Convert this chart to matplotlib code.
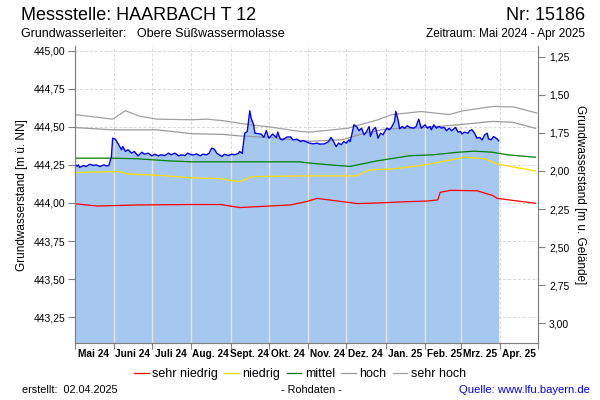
import numpy as np
import pandas as pd
import matplotlib
matplotlib.use('Agg')
import matplotlib.pyplot as plt
from matplotlib.ticker import FixedLocator, FuncFormatter

plt.rcParams['font.family'] = ['Liberation Sans', 'DejaVu Sans']

start = pd.Timestamp('2024-05-01')
end = pd.Timestamp('2025-05-01')
gelaende = 446.21  # Geländehöhe [m ü. NN] für die rechte Achse

# Messwerte (Tage seit 01.05.2024, Grundwasserstand m ü. NN)
mess_tage = [0, 2, 3, 4, 7, 9, 12, 15, 17, 20, 23, 25, 27, 29, 30, 32, 34, 36, 37, 38,
             40, 42, 45, 47, 50, 53, 55, 58, 61, 63, 66, 68, 71, 74, 76, 79, 82, 84, 87, 89,
             92, 94, 96, 99, 101, 104, 106, 108, 110, 112, 114, 116, 118, 121, 124, 126, 129, 130, 132, 134,
             136, 138, 139, 141, 142, 145, 147, 149, 151, 153, 156, 159, 160, 162, 164, 167, 170, 172, 175, 178,
             180, 183, 185, 188, 191, 193, 197, 200, 202, 204, 206, 208, 210, 212, 214, 216, 217, 218, 220, 222,
             224, 226, 228, 230, 232, 233, 235, 237, 239, 241, 243, 244, 246, 248, 250, 252, 253, 255, 256, 258,
             260, 262, 264, 267, 269, 271, 273, 276, 278, 280, 281, 283, 285, 287, 289, 291, 293, 295, 297, 300,
             302, 304, 305, 307, 310, 311, 313, 315, 317, 319, 321, 323, 325, 326, 328, 330, 332, 333, 334]
mess_werte = [444.26, 444.24, 444.25, 444.233, 444.246, 444.239, 444.254, 444.246, 444.25, 444.239,
              444.25, 444.243, 444.246, 444.305, 444.425, 444.419, 444.393, 444.364, 444.349, 444.37,
              444.338, 444.349, 444.327, 444.338, 444.309, 444.333, 444.32, 444.327, 444.309, 444.32,
              444.309, 444.316, 444.311, 444.327, 444.316, 444.327, 444.309, 444.316, 444.311, 444.327,
              444.316, 444.316, 444.322, 444.309, 444.32, 444.316, 444.327, 444.36, 444.353, 444.327,
              444.316, 444.305, 444.32, 444.311, 444.32, 444.316, 444.325, 444.338, 444.325, 444.458,
              444.469, 444.605, 444.557, 444.513, 444.458, 444.454, 444.452, 444.43, 444.474, 444.425,
              444.452, 444.43, 444.465, 444.419, 444.414, 444.432, 444.434, 444.414, 444.419, 444.403,
              444.41, 444.399, 444.393, 444.388, 444.393, 444.386, 444.388, 444.403, 444.43, 444.403,
              444.37, 444.393, 444.382, 444.403, 444.393, 444.414, 444.403, 444.436, 444.513, 444.502,
              444.474, 444.491, 444.447, 444.469, 444.502, 444.436, 444.48, 444.496, 444.425, 444.458,
              444.447, 444.465, 444.491, 444.48, 444.502, 444.535, 444.601, 444.535, 444.487, 444.502,
              444.491, 444.507, 444.496, 444.491, 444.502, 444.55, 444.491, 444.513, 444.491, 444.502,
              444.48, 444.513, 444.491, 444.502, 444.491, 444.496, 444.474, 444.491, 444.474, 444.496,
              444.465, 444.469, 444.452, 444.465, 444.458, 444.474, 444.48, 444.458, 444.425, 444.43,
              444.414, 444.447, 444.458, 444.421, 444.414, 444.436, 444.425, 444.419, 444.408]

# Langjährige Kennwerte
sehr_hoch_datum = ['2024-05-01', '2024-05-31', '2024-06-10', '2024-06-21', '2024-07-05', '2024-08-02',
                   '2024-08-13', '2024-08-26', '2024-09-16', '2024-10-01', '2024-10-25', '2024-11-02',
                   '2024-12-02', '2024-12-26', '2025-01-06', '2025-01-29', '2025-02-20', '2025-03-03',
                   '2025-03-27', '2025-04-12', '2025-04-30']
sehr_hoch_wert = [444.58, 444.55, 444.605, 444.57, 444.55, 444.546, 444.55, 444.54, 444.513, 444.50,
                  444.47, 444.465, 444.49, 444.546, 444.58, 444.60, 444.58, 444.605, 444.634, 444.63, 444.59]

hoch_datum = ['2024-05-01', '2024-05-31', '2024-07-05', '2024-08-02', '2024-08-26', '2024-09-08',
              '2024-10-02', '2024-11-02', '2024-11-28', '2024-12-12', '2025-01-02', '2025-01-21',
              '2025-02-01', '2025-02-27', '2025-03-26', '2025-04-11', '2025-04-29']
hoch_wert = [444.495, 444.48, 444.48, 444.454, 444.45, 444.44, 444.43, 444.405, 444.415, 444.45,
             444.487, 444.49, 444.495, 444.513, 444.535, 444.53, 444.49]

mittel_datum = ['2024-05-01', '2024-05-31', '2024-06-19', '2024-07-15', '2024-08-02', '2024-10-25',
                '2024-11-02', '2024-11-18', '2024-12-04', '2024-12-25', '2025-01-20', '2025-02-07',
                '2025-02-27', '2025-03-12', '2025-03-26', '2025-04-07', '2025-04-29']
mittel_wert = [444.294, 444.294, 444.29, 444.276, 444.27, 444.27, 444.262, 444.25, 444.24, 444.276,
               444.31, 444.316, 444.333, 444.34, 444.333, 444.316, 444.30]

niedrig_datum = ['2024-05-01', '2024-06-05', '2024-06-12', '2024-07-10', '2024-07-31', '2024-08-24',
                 '2024-08-29', '2024-09-08', '2024-09-18', '2024-11-02', '2024-12-09', '2024-12-19',
                 '2025-01-07', '2025-01-28', '2025-02-07', '2025-02-17', '2025-03-04', '2025-03-20',
                 '2025-03-30', '2025-04-29']
niedrig_wert = [444.20, 444.206, 444.19, 444.18, 444.165, 444.16, 444.15, 444.14, 444.173, 444.178,
                444.178, 444.217, 444.224, 444.245, 444.26, 444.276, 444.30, 444.29, 444.255, 444.21]

sehr_niedrig_datum = ['2024-05-01', '2024-05-19', '2024-06-19', '2024-07-31', '2024-08-24', '2024-09-08',
                      '2024-10-18', '2024-10-31', '2024-11-08', '2024-11-24', '2024-12-10', '2024-12-26',
                      '2025-01-16', '2025-02-03', '2025-02-11', '2025-02-13', '2025-02-21', '2025-03-14',
                      '2025-03-26', '2025-03-30', '2025-04-29']
sehr_niedrig_wert = [443.995, 443.98, 443.987, 443.99, 443.99, 443.97, 443.987, 444.01, 444.03, 444.013,
                     443.996, 444.0, 444.008, 444.013, 444.02, 444.07, 444.083, 444.08, 444.05, 444.03, 443.998]

monate = ['Mai 24', 'Juni 24', 'Juli 24', 'Aug. 24', 'Sept. 24', 'Okt. 24', 'Nov. 24',
          'Dez. 24', 'Jan. 25', 'Feb. 25', 'Mrz. 25', 'Apr. 25']
links_ticks = [443.25, 443.50, 443.75, 444.00, 444.25, 444.50, 444.75, 445.00]
rechts_ticks = [1.25, 1.50, 1.75, 2.00, 2.25, 2.50, 2.75, 3.00]

y_unten, y_oben = 443.08, 445.03
grau = '#808080'


def komma(v, pos=None):
    return f'{v:.2f}'.replace('.', ',')


fig = plt.figure(figsize=(6, 4), dpi=100)
ax = fig.add_axes([0.1243, 0.142, 0.7724, 0.743])

mess_datum = start + pd.to_timedelta(mess_tage, unit='D')
monatsanfang = pd.date_range(start, end, freq='MS')
monatsmitte = monatsanfang[:-1] + pd.Timedelta(days=15)

# Gitter unter der Fläche
ax.set_axisbelow(True)
ax.grid(True, which='major', color='#d8d8d8', linestyle=(0, (3, 2)), linewidth=0.7)

ax.fill_between(mess_datum, y_unten, mess_werte, color='#a6c8ef', linewidth=0, zorder=1)

# vertikale Monatslinien auch innerhalb der Fläche sichtbar
tage_anfang = [(d - start).days for d in monatsanfang[1:-1]]
hoehe = np.interp(tage_anfang, mess_tage, mess_werte, right=y_unten)
ax.vlines(monatsanfang[1:-1], y_unten, hoehe, color='#e4e4e4', linewidth=1, zorder=2)

ax.plot(pd.to_datetime(sehr_hoch_datum), sehr_hoch_wert, color='#a0a0a0', lw=0.9, zorder=3, label='sehr hoch')
ax.plot(pd.to_datetime(hoch_datum), hoch_wert, color='#999999', lw=0.9, zorder=3, label='hoch')
ax.plot(pd.to_datetime(mittel_datum), mittel_wert, color='#008000', lw=0.9, zorder=3, label='mittel')
ax.plot(pd.to_datetime(niedrig_datum), niedrig_wert, color='#ffdd00', lw=0.9, zorder=3, label='niedrig')
ax.plot(pd.to_datetime(sehr_niedrig_datum), sehr_niedrig_wert, color='#ff0000', lw=0.9, zorder=3, label='sehr niedrig')
ax.plot(mess_datum, mess_werte, color='#0000ff', lw=1.0, zorder=4)

ax.set_xlim(start, end)
ax.set_ylim(y_unten, y_oben)
ax.yaxis.set_major_locator(FixedLocator(links_ticks))
ax.yaxis.set_major_formatter(FuncFormatter(komma))
ax.set_xticks(monatsanfang)
ax.set_xticklabels([])
ax.set_xticks(monatsmitte, minor=True)
ax.set_xticklabels(monate, minor=True, fontweight='bold')
ax.tick_params(axis='x', which='minor', length=0, labelsize=7.3, pad=4)
ax.tick_params(axis='x', which='major', length=4, color=grau)
ax.tick_params(axis='y', length=5, color=grau, labelsize=7.5, pad=1.5)
ax.set_ylabel('Grundwasserstand [m ü. NN]', fontsize=8.5, labelpad=4)

ax.spines['top'].set_visible(False)
for s in ['left', 'bottom', 'right']:
    ax.spines[s].set_color(grau)

# rechte Achse: Flurabstand
ax2 = ax.twinx()
ax2.set_ylim(gelaende - y_unten, gelaende - y_oben)
ax2.yaxis.set_major_locator(FixedLocator(rechts_ticks))
ax2.yaxis.set_major_formatter(FuncFormatter(komma))
ax2.tick_params(axis='y', length=5, color=grau, labelsize=7.5, pad=3)
ax2.spines['top'].set_visible(False)
for s in ['left', 'bottom', 'right']:
    ax2.spines[s].set_color(grau)
ax2.set_ylabel('Grundwasserstand [m u. Gelände]', fontsize=8.5, rotation=270, labelpad=12)

# Legende
handles, labels = ax.get_legend_handles_labels()
reihenfolge = ['sehr niedrig', 'niedrig', 'mittel', 'hoch', 'sehr hoch']
h = [handles[labels.index(l)] for l in reihenfolge]
fig.legend(h, reihenfolge, loc='center', bbox_to_anchor=(0.5, 1 - 374 / 400), ncol=5, frameon=False,
           fontsize=9, handlelength=1.15, handletextpad=0.3, columnspacing=0.5)

# Kopf- und Fußzeilen
fig.text(21 / 600, 1 - 16 / 400, 'Messstelle: HAARBACH T 12', fontsize=13, va='center', ha='left')
fig.text(585 / 600, 1 - 16 / 400, 'Nr: 15186', fontsize=13, va='center', ha='right')
fig.text(21 / 600, 1 - 34 / 400, 'Grundwasserleiter:   Obere Süßwassermolasse', fontsize=9, va='center', ha='left')
fig.text(585 / 600, 1 - 34 / 400, 'Zeitraum: Mai 2024 - Apr 2025', fontsize=8.5, va='center', ha='right')
fig.text(22 / 600, 1 - 390 / 400, 'erstellt:  02.04.2025', fontsize=7.8, va='center', ha='left')
fig.text(311 / 600, 1 - 390 / 400, '- Rohdaten -', fontsize=7.8, va='center', ha='center')
fig.text(590 / 600, 1 - 390 / 400, 'Quelle: www.lfu.bayern.de', fontsize=8.1, va='center', ha='right', color='#0000ff')

fig.savefig('out.png', dpi=100)
